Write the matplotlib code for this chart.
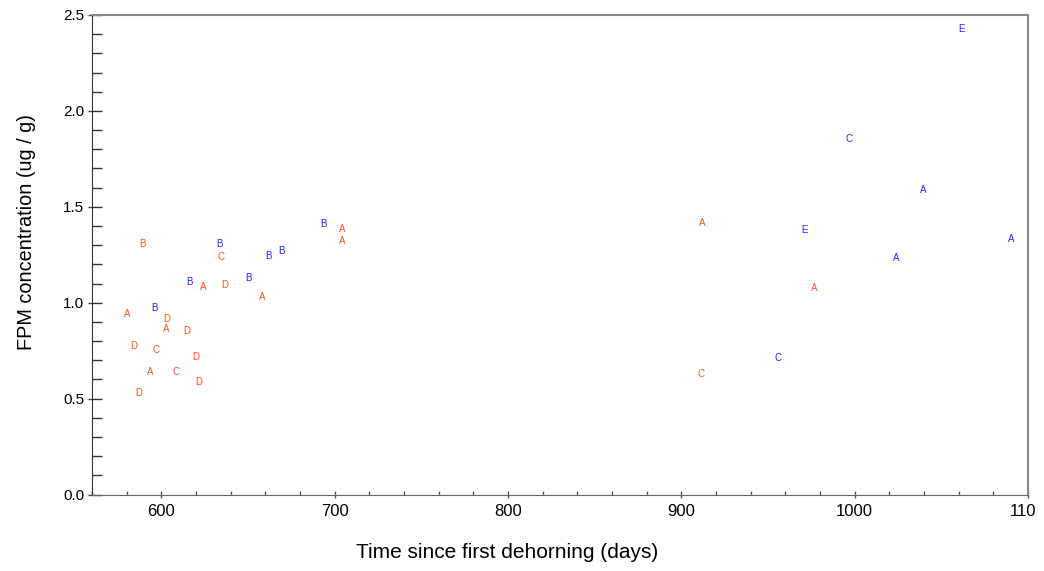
import matplotlib
matplotlib.use("Agg")
import matplotlib.pyplot as plt
from matplotlib.ticker import MultipleLocator, FormatStrFormatter
from matplotlib.transforms import Bbox, TransformedBbox, IdentityTransform

plt.rcParams['font.family'] = ['Liberation Sans', 'DejaVu Sans']

# Orange group
orange_x = [589.3, 580.4, 583.8, 587.1, 593.5, 597.0, 602.9, 602.7, 608.7, 614.7,
            619.6, 621.8, 624.3, 634.3, 636.8, 658.3, 704.3, 704.3, 911.8, 911.4, 976.7]
orange_y = [1.306, 0.940, 0.776, 0.531, 0.639, 0.755, 0.917, 0.863, 0.639, 0.852,
            0.717, 0.585, 1.080, 1.240, 1.094, 1.030, 1.384, 1.322, 1.414, 0.627, 1.077]
orange_labels = ['B', 'A', 'D', 'D', 'A', 'C', 'D', 'A', 'C', 'D',
                 'D', 'D', 'A', 'C', 'D', 'A', 'A', 'A', 'A', 'C', 'A']

# Blue group
blue_x = [596.2, 616.2, 633.5, 650.5, 661.8, 669.5, 693.4, 955.5, 971.1, 996.9,
          1039.8, 1024.0, 1090.2, 1061.9]
blue_y = [0.971, 1.108, 1.305, 1.130, 1.243, 1.271, 1.410, 0.710, 1.379, 1.852,
          1.586, 1.231, 1.331, 2.425]
blue_labels = ['B', 'B', 'B', 'B', 'B', 'B', 'B', 'C', 'E', 'C',
               'A', 'A', 'A', 'E']

orange_color = '#F8541E'
blue_color = '#2222FF'

fig = plt.figure(figsize=(10.44, 5.71), dpi=100)
ax = fig.add_axes([92/1044, 1 - 494.5/571, (1028-92)/1044, (494.5-15)/571])

for x, y, s in zip(orange_x, orange_y, orange_labels):
    ax.text(x, y, s, color=orange_color, fontsize=7, ha='center', va='center')
for x, y, s in zip(blue_x, blue_y, blue_labels):
    ax.text(x, y, s, color=blue_color, fontsize=7, ha='center', va='center')

ax.set_xlim(560, 1100)
ax.set_ylim(0, 2.5)
ax.xaxis.set_major_locator(MultipleLocator(100))
ax.xaxis.set_minor_locator(MultipleLocator(20))
ax.yaxis.set_major_locator(MultipleLocator(0.5))
ax.yaxis.set_minor_locator(MultipleLocator(0.1))
ax.yaxis.set_major_formatter(FormatStrFormatter('%.1f'))
ax.xaxis.remove_overlapping_locs = False
ax.yaxis.remove_overlapping_locs = False

ax.tick_params(axis='y', which='major', direction='out', length=3, width=1,
               color='#444444', labelsize=11, pad=2.5)
ax.tick_params(axis='y', which='minor', direction='in', length=7.2, width=1,
               color='#333333')
ax.tick_params(axis='x', which='major', direction='out', length=2.2, width=1,
               color='#555555', labelsize=12, pad=5)
ax.tick_params(axis='x', which='minor', direction='in', length=3, width=1,
               color='#555555')

ax.spines['left'].set_color('#333333')
ax.spines['bottom'].set_color('#666666')
for side in ['top', 'right']:
    ax.spines[side].set_color('#888888')
    ax.spines[side].set_linewidth(1.5)

ax.set_xlabel('Time since first dehorning (days)', fontsize=15)
ax.xaxis.set_label_coords((507-92)/936, -(552-494.5)/479.5)
ax.xaxis.label.set_va('center')
ax.set_ylabel('FPM concentration (ug / g)', fontsize=14.3)
ax.yaxis.set_label_coords(-(92-27)/936, (494.5-232)/479.5)
ax.yaxis.label.set_va('center')

# the right-most x label is cut by the canvas edge in the reference
clip = TransformedBbox(Bbox.from_extents(0, 0, 1034.5, 571), IdentityTransform())
for t in ax.xaxis.get_major_ticks():
    t.label1.set_clip_on(True)
    t.label1.set_clip_box(clip)

fig.savefig('out.png', dpi=100)
